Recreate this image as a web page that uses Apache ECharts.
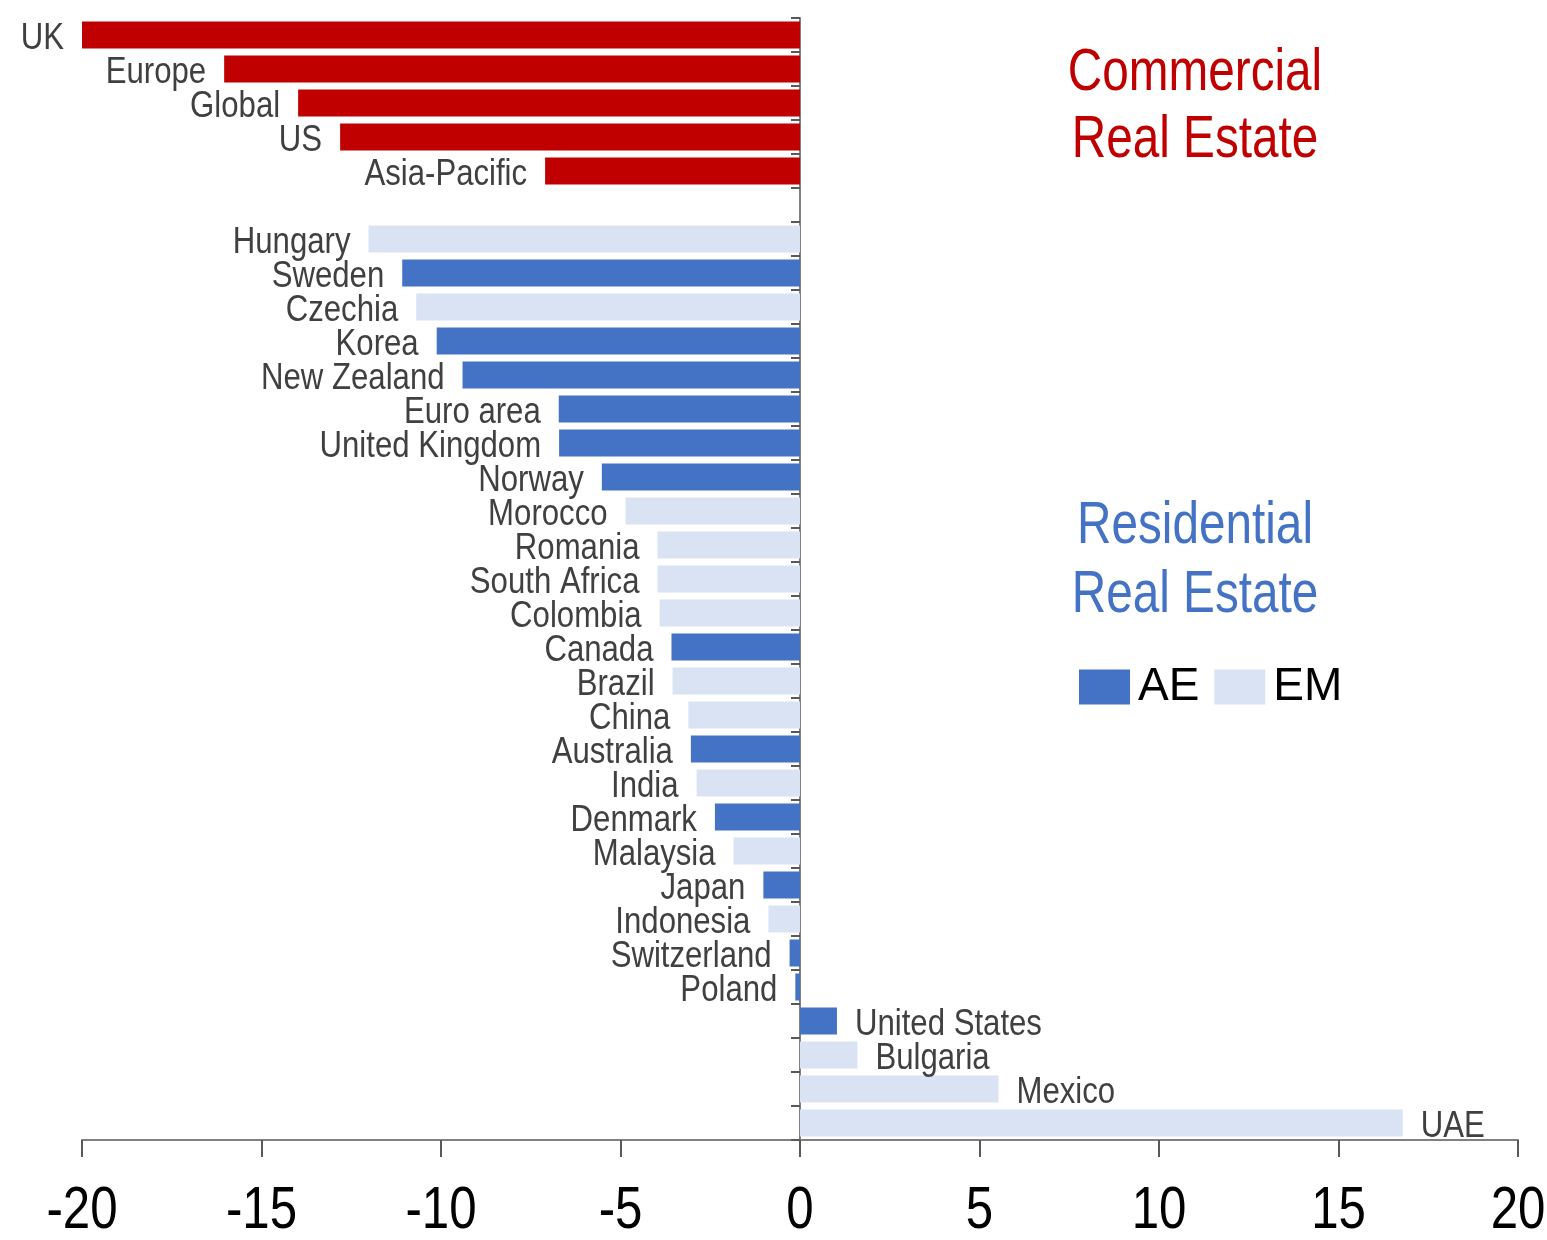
<!DOCTYPE html>
<html>
<head>
<meta charset="utf-8">
<script src="https://cdn.jsdelivr.net/npm/echarts@6/dist/echarts.min.js"></script>
<style>
  html, body { margin: 0; padding: 0; background: #fff; }
  #chart { width: 1547px; height: 1240px; }
</style>
</head>
<body>
<div id="chart"></div>
<script>
// ---- data ----
const categories = ['UK', 'Europe', 'Global', 'US', 'Asia-Pacific', '',
  'Hungary', 'Sweden', 'Czechia', 'Korea', 'New Zealand', 'Euro area', 'United Kingdom',
  'Norway', 'Morocco', 'Romania', 'South Africa', 'Colombia', 'Canada', 'Brazil',
  'China', 'Australia', 'India', 'Denmark', 'Malaysia', 'Japan', 'Indonesia',
  'Switzerland', 'Poland', 'United States', 'Bulgaria', 'Mexico', 'UAE'];
const values = [-20.0, -16.04, -13.98, -12.81, -7.10, null,
  -12.02, -11.08, -10.69, -10.12, -9.40, -6.72, -6.71,
  -5.52, -4.86, -3.97, -3.97, -3.91, -3.58, -3.55,
  -3.11, -3.04, -2.88, -2.37, -1.85, -1.02, -0.88,
  -0.29, -0.13, 1.03, 1.60, 5.53, 16.79];
// group: C = commercial real estate, AE = advanced economy, EM = emerging market
const groups = ['C', 'C', 'C', 'C', 'C', '',
  'EM', 'AE', 'EM', 'AE', 'AE', 'AE', 'AE',
  'AE', 'EM', 'EM', 'EM', 'EM', 'AE', 'EM',
  'EM', 'AE', 'EM', 'AE', 'EM', 'AE', 'EM',
  'AE', 'AE', 'AE', 'EM', 'EM', 'EM'];
const xTicks = [-20, -15, -10, -5, 0, 5, 10, 15, 20];
const xTickLabels = ['-20', '-15', '-10', '-5', '0', '5', '10', '15', '20'];
const legendNames = ['AE', 'EM'];
const titleCommercial = ['Commercial', 'Real Estate'];
const titleResidential = ['Residential', 'Real Estate'];

// ---- styles ----
const FONT = "'Liberation Sans', Arial, sans-serif";
const NARROW_LABEL = 0.865; // horizontal squeeze to mimic a narrow face
const NARROW_TICK = 0.82;
const NARROW_TITLE = 0.795;
const colors = { C: '#C00000', AE: '#4472C4', EM: '#DAE3F3' };
const seriesNames = { C: 'Commercial', AE: 'AE', EM: 'EM' };

function buildData(g) {
  return values.map((v, i) => (groups[i] === g && v !== null) ? v : null);
}

const barSeries = ['C', 'AE', 'EM'].map(g => ({
  name: seriesNames[g],
  type: 'bar',
  stack: 'all',
  barWidth: 27,
  itemStyle: { color: colors[g] },
  data: buildData(g),
  emphasis: { disabled: true },
  silent: true,
  z: 2
}));

// category labels beside bar ends (narrowed text)
const labelSeries = {
  name: 'labels',
  type: 'custom',
  silent: true,
  z: 5,
  data: values.map((v, i) => v === null ? null : [v, i]),
  encode: { x: 0, y: 1 },
  renderItem: function (params, api) {
    const v = api.value(0);
    const idx = api.value(1);
    const p = api.coord([v, idx]);
    const neg = v < 0;
    return {
      type: 'text',
      x: p[0] + (neg ? -18 : 18),
      y: p[1] + 4,
      scaleX: NARROW_LABEL,
      style: {
        text: categories[idx],
        x: 0, y: 0,
        textAlign: neg ? 'right' : 'left',
        textVerticalAlign: 'middle',
        font: '36px ' + FONT,
        fill: '#404040'
      }
    };
  }
};

// x tick labels (narrowed text)
const tickSeries = {
  name: 'ticks',
  type: 'custom',
  silent: true,
  z: 5,
  data: xTicks.map((t, i) => [t, categories.length - 1, i]),
  encode: { x: 0, y: 1 },
  renderItem: function (params, api) {
    const t = api.value(0);
    const k = api.value(2);
    const p = api.coord([t, categories.length - 1]);
    const cs = params.coordSys;
    return {
      type: 'text',
      x: p[0],
      y: cs.y + cs.height + 71,
      scaleX: NARROW_TICK,
      style: {
        text: xTickLabels[k],
        x: 0, y: 0,
        textAlign: 'center',
        textVerticalAlign: 'middle',
        font: '60px ' + FONT,
        fill: '#000000'
      }
    };
  }
};

function titleText(str, y, color) {
  return {
    type: 'text',
    x: 1195, y: y,
    scaleX: NARROW_TITLE,
    silent: true,
    style: {
      text: str, x: 0, y: 0,
      textAlign: 'center',
      textVerticalAlign: 'middle',
      font: '60px ' + FONT,
      fill: color
    }
  };
}

const chart = echarts.init(document.getElementById('chart'), null, { renderer: 'canvas' });
chart.setOption({
  animation: false,
  backgroundColor: '#ffffff',
  grid: { left: 82, right: 29, top: 18, bottom: 100, containLabel: false, outerBoundsMode: 'none' },
  xAxis: {
    type: 'value',
    min: xTicks[0],
    max: xTicks[xTicks.length - 1],
    interval: 5,
    splitLine: { show: false },
    axisLine: { show: true, onZero: false, lineStyle: { color: '#808080', width: 2 } },
    axisTick: { show: true, length: 17, lineStyle: { color: '#595959', width: 2 } },
    axisLabel: { show: false }
  },
  yAxis: {
    type: 'category',
    data: categories,
    inverse: true,
    axisLine: { show: true, onZero: true, lineStyle: { color: '#808080', width: 2 } },
    axisTick: { show: true, length: 9, lineStyle: { color: '#595959', width: 2 } },
    axisLabel: { show: false },
    splitLine: { show: false }
  },
  legend: {
    data: legendNames,
    left: 1079,
    top: 664,
    itemWidth: 51,
    itemHeight: 35,
    itemGap: 15,
    padding: 0,
    icon: 'rect',
    textStyle: { fontFamily: FONT, fontSize: 46, color: '#000000', padding: [4, 0, 0, 3] },
    selectedMode: false
  },
  graphic: [
    titleText(titleCommercial[0], 73, '#C00000'),
    titleText(titleCommercial[1], 140, '#C00000'),
    titleText(titleResidential[0], 526, '#4472C4'),
    titleText(titleResidential[1], 595, '#4472C4')
  ],
  series: barSeries.concat([labelSeries, tickSeries])
});
</script>
</body>
</html>
